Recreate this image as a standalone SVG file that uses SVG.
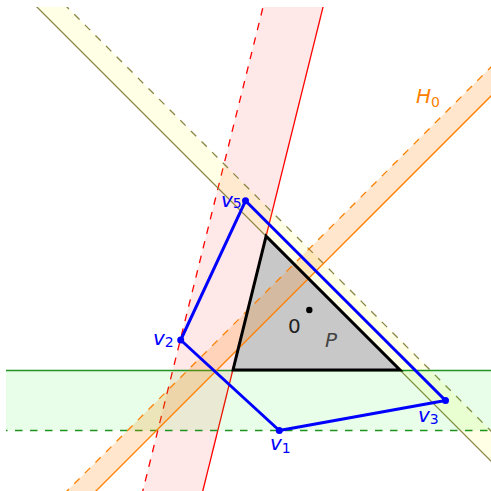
<svg xmlns="http://www.w3.org/2000/svg" width="491" height="491" viewBox="0 0 491 491">
<defs>
<clipPath id="clip"><rect x="6" y="7" width="485" height="484"/></clipPath>
</defs>
<style>
.ln{fill:none;stroke-width:1.3}
.dash{stroke-dasharray:7.5 7.5}
.lbl{font-family:"DejaVu Sans",sans-serif;font-size:20px}
.it{font-style:italic}
.sub{font-size:14px;font-style:normal}
.blue{fill:#0000ff}
</style>
<rect width="491" height="491" fill="#ffffff"/>
<g id="P-fill">
<polygon points="266.1,236.2 233,370 400,370" fill="#c8c8c8"/>
</g>
<g clip-path="url(#clip)">
<g id="band-red">
<polygon points="277.2,-50 337.2,-50 188.1,550 128.1,550" fill="#ff0000" fill-opacity="0.09"/>
<line x1="277.2" y1="-50" x2="128.1" y2="550" class="ln dash" stroke="#ff0000"/>
<line x1="337.2" y1="-50" x2="188.1" y2="550" class="ln" stroke="#ff0000"/>
</g>
<g id="band-olive">
<polygon points="0,-29.9 560,530.1 560,500 0,-60" fill="#ffff00" fill-opacity="0.1"/>
<line x1="0" y1="-29.9" x2="560" y2="530.1" class="ln" stroke="#8a8545"/>
<line x1="0" y1="-60" x2="560" y2="500" class="ln dash" stroke="#8a8545"/>
</g>
<g id="band-green">
<rect x="0" y="370.5" width="560" height="60" fill="#00ee00" fill-opacity="0.085"/>
<line x1="0" y1="370.5" x2="560" y2="370.5" class="ln" stroke="#1f951f"/>
<line x1="0" y1="430.5" x2="560" y2="430.5" class="ln dash" stroke="#1f951f"/>
</g>
<g id="band-H0">
<polygon points="0,558 560,-2 560,27 0,587" fill="#ff8000" fill-opacity="0.2"/>
<line x1="0" y1="558" x2="560" y2="-2" class="ln dash" stroke="#ff8000"/>
<line x1="0" y1="587" x2="560" y2="27" class="ln" stroke="#ff8000"/>
</g>
</g>
<g id="P">
<polygon points="266.1,236.2 233,370 400,370" fill="none" stroke="#000" stroke-width="3" stroke-linejoin="miter"/>
<circle cx="309.3" cy="310" r="3.2" fill="#000"/>
<text x="288" y="333" class="lbl" fill="#222">0</text>
<text x="325" y="347" class="lbl it" fill="#444">P</text>
</g>
<g id="connectors">
<polygon points="279.3,430.5 180.7,340 245.5,200.8 445.5,400.5" fill="none" stroke="#0000ff" stroke-width="3" stroke-linejoin="round"/>
</g>
<g id="v1"><circle cx="279.3" cy="430.5" r="3.5" class="blue"/><text x="270" y="450" class="lbl it blue">v<tspan class="sub" dy="3">1</tspan></text></g>
<g id="v2"><circle cx="180.7" cy="340" r="3.5" class="blue"/><text x="153" y="344.5" class="lbl it blue">v<tspan class="sub" dy="2">2</tspan></text></g>
<g id="v3"><circle cx="445.5" cy="400.5" r="3.5" class="blue"/><text x="418" y="422" class="lbl it blue">v<tspan class="sub" dy="2">3</tspan></text></g>
<g id="v5"><circle cx="245.5" cy="200.8" r="3.5" class="blue"/><text x="221" y="207" class="lbl it blue">v<tspan class="sub" dy="1">5</tspan></text></g>
<g id="H0-label"><text x="416" y="103" class="lbl it" fill="#ff8000">H<tspan class="sub" dy="4">0</tspan></text></g>
</svg>
